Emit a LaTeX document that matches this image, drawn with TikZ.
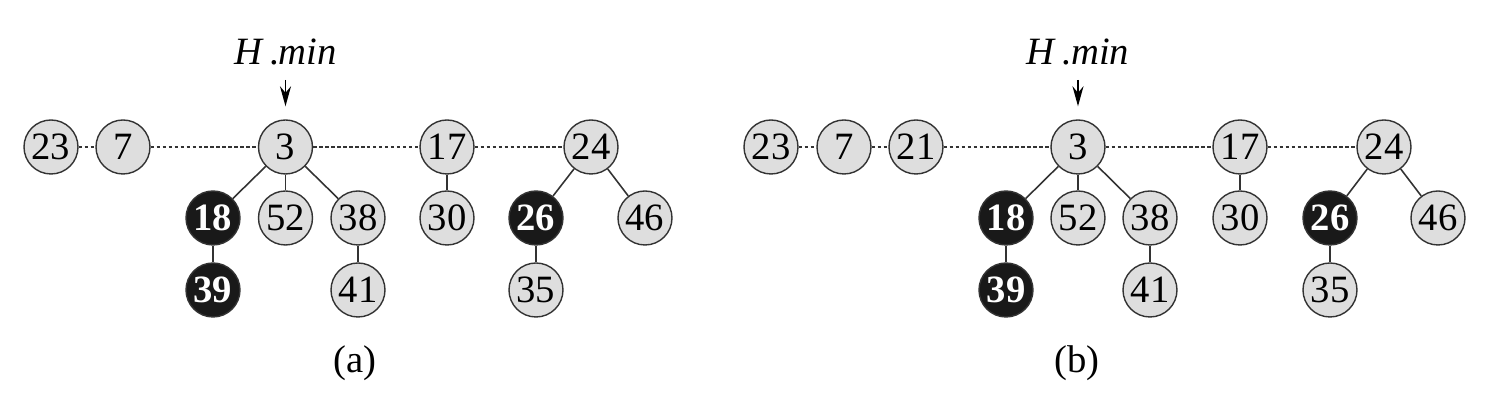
\documentclass[tikz,border=0pt]{standalone}
\usepackage{fontspec}
\setmainfont{LiberationSerif-Regular.ttf}[BoldFont=LiberationSerif-Bold.ttf, ItalicFont=LiberationSerif-Italic.ttf]
\usetikzlibrary{arrows.meta}

\begin{document}
\begin{tikzpicture}[
    cell/.style={draw=black!80, line width=0.4pt, circle, fill=black!13, inner sep=0pt, minimum size=0.54cm, font=\fontsize{11}{12}\selectfont},
    blk/.style={cell, fill=black!90, text=white, font=\fontsize{11}{12}\selectfont\bfseries},
    sib/.style={draw=black!80, line width=0.4pt, dash pattern=on 1pt off 0.7pt},
    tree/.style={draw=black!80, line width=0.45pt},
    ptr/.style={-{Stealth[length=2mm, width=1.1mm]}, line width=0.45pt}
]
\useasboundingbox (0,0) rectangle (14.91,4.02);

% (a)
\node[cell] (a23) at (0.51,2.55) {23};
\node[cell] (a7) at (1.23,2.55) {7};
\node[cell] (a3) at (2.855,2.55) {3};
\node[cell] (a17) at (4.47,2.55) {17};
\node[cell] (a24) at (5.91,2.55) {24};
\node[blk] (a18) at (2.13,1.84) {18};
\node[cell] (a52) at (2.855,1.84) {52};
\node[cell] (a38) at (3.58,1.84) {38};
\node[cell] (a30) at (4.47,1.84) {30};
\node[blk] (a26) at (5.36,1.84) {26};
\node[cell] (a46) at (6.45,1.84) {46};
\node[blk] (a39) at (2.13,1.12) {39};
\node[cell] (a41) at (3.58,1.12) {41};
\node[cell] (a35) at (5.36,1.12) {35};
\node[font=\fontsize{11}{12}\selectfont] (amin) at (2.855,3.50) {\textit{H}\kern1.5pt.\textit{min}};
\node[font=\fontsize{11}{12}\selectfont] (acap) at (3.55,0.39) {(a)};
\coordinate (atail) at (2.855,3.22);

\draw[sib] (a23) -- (a7);
\draw[sib] (a7) -- (a3);
\draw[sib] (a3) -- (a17);
\draw[sib] (a17) -- (a24);
\draw[tree] (a3) -- (a18);
\draw[tree] (a3) -- (a52);
\draw[tree] (a3) -- (a38);
\draw[tree] (a18) -- (a39);
\draw[tree] (a38) -- (a41);
\draw[tree] (a17) -- (a30);
\draw[tree] (a24) -- (a26);
\draw[tree] (a24) -- (a46);
\draw[tree] (a26) -- (a35);
\draw[ptr] (atail) -- ([yshift=1.3mm]a3.north);

% (b)
\node[cell] (b23) at (7.71,2.55) {23};
\node[cell] (b7) at (8.44,2.55) {7};
\node[cell] (b21) at (9.16,2.55) {21};
\node[cell] (b3) at (10.78,2.55) {3};
\node[cell] (b17) at (12.40,2.55) {17};
\node[cell] (b24) at (13.84,2.55) {24};
\node[blk] (b18) at (10.06,1.84) {18};
\node[cell] (b52) at (10.78,1.84) {52};
\node[cell] (b38) at (11.50,1.84) {38};
\node[cell] (b30) at (12.40,1.84) {30};
\node[blk] (b26) at (13.30,1.84) {26};
\node[cell] (b46) at (14.38,1.84) {46};
\node[blk] (b39) at (10.06,1.12) {39};
\node[cell] (b41) at (11.50,1.12) {41};
\node[cell] (b35) at (13.30,1.12) {35};
\node[font=\fontsize{11}{12}\selectfont] (bmin) at (10.78,3.50) {\textit{H}\kern1.5pt.\textit{min}};
\node[font=\fontsize{11}{12}\selectfont] (bcap) at (10.77,0.39) {(b)};
\coordinate (btail) at (10.78,3.22);

\draw[sib] (b23) -- (b7);
\draw[sib] (b7) -- (b21);
\draw[sib] (b21) -- (b3);
\draw[sib] (b3) -- (b17);
\draw[sib] (b17) -- (b24);
\draw[tree] (b3) -- (b18);
\draw[tree] (b3) -- (b52);
\draw[tree] (b3) -- (b38);
\draw[tree] (b18) -- (b39);
\draw[tree] (b38) -- (b41);
\draw[tree] (b17) -- (b30);
\draw[tree] (b24) -- (b26);
\draw[tree] (b24) -- (b46);
\draw[tree] (b26) -- (b35);
\draw[ptr] (btail) -- ([yshift=1.3mm]b3.north);
\end{tikzpicture}
\end{document}
